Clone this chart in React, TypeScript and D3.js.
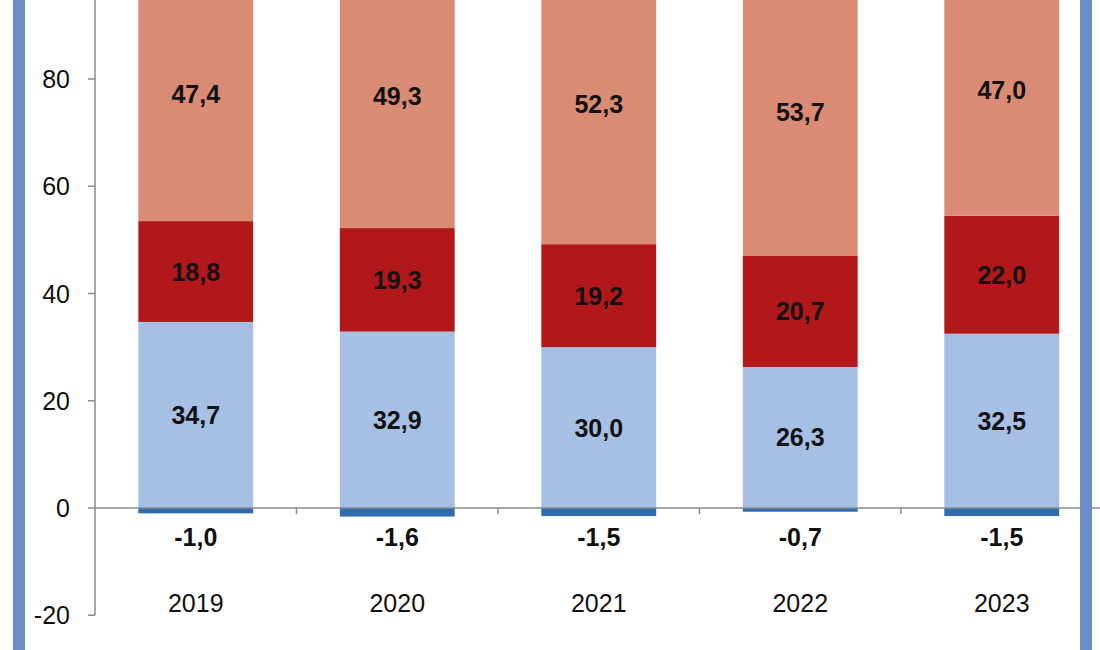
import React from "react";
import * as d3 from "d3";

const years = ["2019", "2020", "2021", "2022", "2023"];
const blueVals = [34.7, 32.9, 30.0, 26.3, 32.5];
const redVals = [18.8, 19.3, 19.2, 20.7, 22.0];
const salmonVals = [47.4, 49.3, 52.3, 53.7, 47.0];
const negVals = [-1.0, -1.6, -1.5, -0.7, -1.5];
const yTicks = [80, 60, 40, 20, 0, -20];

const fmt = (v: number) => v.toFixed(1).replace(".", ",");

export default function App() {
  const W = 1100, H = 650;
  const x0 = 95;
  const band = 201.5;
  const x = d3.scaleBand<string>().domain(years).range([x0, x0 + band * years.length]).paddingInner(0.43).paddingOuter(0.215);
  const y = d3.scaleLinear().domain([0, 80]).range([508, 79]);
  const font = "'Liberation Sans', Arial, sans-serif";
  const fs = 25;
  const series = [
    { vals: blueVals, color: "#A6BFE4" },
    { vals: redVals, color: "#B2171A" },
    { vals: salmonVals, color: "#D98B73" },
  ];
  return (
    <svg width={W} height={H} style={{ position: "absolute", left: 0, top: 0, background: "#fff" }} fontFamily={font}>
      <rect width={W} height={H} fill="#fff" />
      {years.map((yr, i) => {
        let base = 0;
        const bx = x(yr)!;
        const bw = x.bandwidth();
        const cx = bx + bw / 2;
        return (
          <g key={yr}>
            {series.map((s, k) => {
              const v = s.vals[i];
              const y1 = y(base + v);
              const y2 = y(base);
              const mid = (y1 + y2) / 2;
              base += v;
              return (
                <g key={k}>
                  <rect x={bx} y={y1} width={bw} height={y2 - y1} fill={s.color} />
                  <text x={cx} y={mid} textAnchor="middle" dominantBaseline="central" fontSize={fs} fontWeight="bold" fill="#111">
                    {fmt(v)}
                  </text>
                </g>
              );
            })}
            <rect x={bx} y={y(0)} width={bw} height={y(negVals[i]) - y(0)} fill="#2F6DB0" />
            <text x={cx} y={537} textAnchor="middle" dominantBaseline="central" fontSize={fs} fontWeight="bold" fill="#111">
              {fmt(negVals[i])}
            </text>
            <text x={cx} y={603} textAnchor="middle" dominantBaseline="central" fontSize={fs} fill="#111">
              {yr}
            </text>
          </g>
        );
      })}
      {/* zero line */}
      <line x1={x0} x2={1110} y1={y(0)} y2={y(0)} stroke="#8a8a8a" strokeWidth={1.5} />
      {years.slice(1).map((yr, i) => {
        const bx = x0 + band * (i + 1);
        return <line key={yr} x1={bx} x2={bx} y1={y(0)} y2={y(0) + 6} stroke="#8a8a8a" strokeWidth={1.5} />;
      })}
      {/* y axis */}
      <line x1={x0} x2={x0} y1={0} y2={y(-20)} stroke="#8a8a8a" strokeWidth={1.5} />
      {yTicks.map((t) => (
        <g key={t}>
          <line x1={x0 - 7} x2={x0} y1={y(t)} y2={y(t)} stroke="#8a8a8a" strokeWidth={1.5} />
          <text x={70} y={y(t)} textAnchor="end" dominantBaseline="central" fontSize={fs} fill="#111">
            {t}
          </text>
        </g>
      ))}
      {/* frame borders */}
      <rect x={13} y={0} width={12} height={H} fill="#6A8DC4" />
      <rect x={1080} y={0} width={12} height={H} fill="#6A8DC4" />
    </svg>
  );
}
